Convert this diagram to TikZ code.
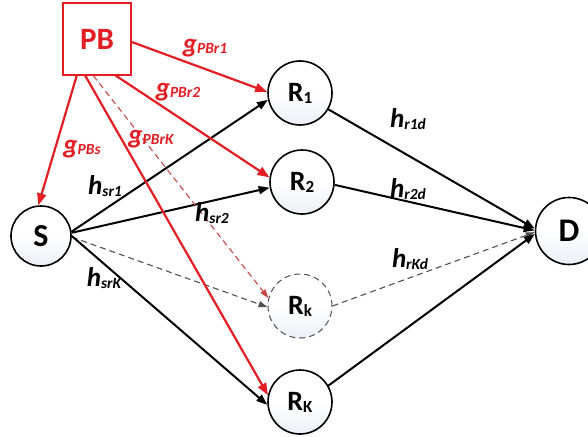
\documentclass[tikz,border=0pt]{standalone}
\usepackage{fontspec}
\setmainfont{Carlito}
\usetikzlibrary{arrows.meta,calc}
\definecolor{pbred}{RGB}{226,30,36}
\definecolor{dashred}{RGB}{200,70,70}
\definecolor{dashgray}{RGB}{80,80,80}
\definecolor{circbot}{RGB}{236,239,246}
\newcommand{\chl}[2]{{\fontsize{27}{27}\selectfont\bfseries\itshape #1\raisebox{-0.12ex}{\fontsize{15.5}{15.5}\selectfont #2}}}
\newcommand{\rlab}[1]{{\fontsize{28}{28}\selectfont\bfseries R\raisebox{-0.15ex}{\fontsize{17}{17}\selectfont #1}}}
\tikzset{
  nodecirc/.style={circle, draw=black, line width=1.6pt, minimum size=64pt, inner sep=0pt,
    top color=white, bottom color=circbot, middle color=white},
  dashcirc/.style={nodecirc, draw=dashgray, line width=1pt, dash pattern=on 6pt off 4pt},
  pbbox/.style={draw=pbred, line width=2pt, minimum width=68pt, minimum height=71pt, inner sep=0pt,
    text=pbred, font=\fontsize{31}{31}\selectfont\bfseries},
  blk/.style={line width=2pt, -{Triangle[length=11pt,width=8pt]}},
  red/.style={draw=pbred, line width=2.2pt, -{Triangle[length=12pt,width=9pt]}},
  reddash/.style={draw=dashred, line width=1.1pt, dash pattern=on 6pt off 4pt, -{Triangle[length=9pt,width=6pt]}},
  graydash/.style={draw=dashgray, line width=1.1pt, dash pattern=on 6pt off 4pt, -{Triangle[length=9pt,width=6pt]}},
  redlab/.style={text=pbred, inner sep=0pt},
  blklab/.style={text=black, inner sep=0pt}
}
\begin{document}
\begin{tikzpicture}[x=1pt,y=-1pt]
\useasboundingbox (0,0) rectangle (588,436);
% nodes
\node[pbbox] (PB) at (97,39) {PB};
\node[nodecirc, minimum size=60pt, font=\fontsize{32}{32}\selectfont\bfseries] (S) at (41,236) {S};
\node[nodecirc] (R1) at (300,93) {\rlab{1}};
\node[nodecirc] (R2) at (302,182) {\rlab{2}};
\node[dashcirc] (Rk) at (300,306) {\rlab{k}};
\node[nodecirc] (RK) at (300,402) {\rlab{K}};
\node[nodecirc, minimum size=67pt, font=\fontsize{33}{33}\selectfont\bfseries] (D) at (569,231) {D};
% source to relays
\draw[blk] (S.8) -- (R1.192);
\draw[blk] (S.6) -- (R2.190);
\draw[graydash] (S.-2) -- (Rk.182);
\draw[blk] (S.0) -- (RK.185);
% relays to destination
\draw[blk] (R1.-30) -- (D.176);
\draw[blk] (R2.-5) -- (D.179);
\draw[graydash] (Rk.0) -- (D.182);
\draw[blk] (RK.30) -- (D.185);
% power beacon
\draw[red] (PB.241) -- (S.95);
\draw[red] (PB.355) -- (R1.178);
\draw[red] (PB.297) -- (R2.172);
\draw[reddash] (PB.264) -- (Rk.166);
\draw[red] (PB.252) -- (RK.168);
% labels
\node[redlab] (gr1) at (205,48) {\chl{g}{PBr1}};
\node[redlab] (gr2) at (178,92) {\chl{g}{PBr2}};
\node[redlab] (grK) at (151,139) {\chl{g}{PBrK}};
\node[redlab] (gs) at (82,149) {\chl{g}{PBs}};
\node[blklab] (hs1) at (105,186) {\chl{h}{sr1}};
\node[blklab] (hs2) at (212,213) {\chl{h}{sr2}};
\node[blklab] (hsK) at (104,278) {\chl{h}{srK}};
\node[blklab] (h1d) at (408,119) {\chl{h}{r1d}};
\node[blklab] (h2d) at (408,189) {\chl{h}{r2d}};
\node[blklab] (hKd) at (410,259) {\chl{h}{rKd}};
\end{tikzpicture}
\end{document}
